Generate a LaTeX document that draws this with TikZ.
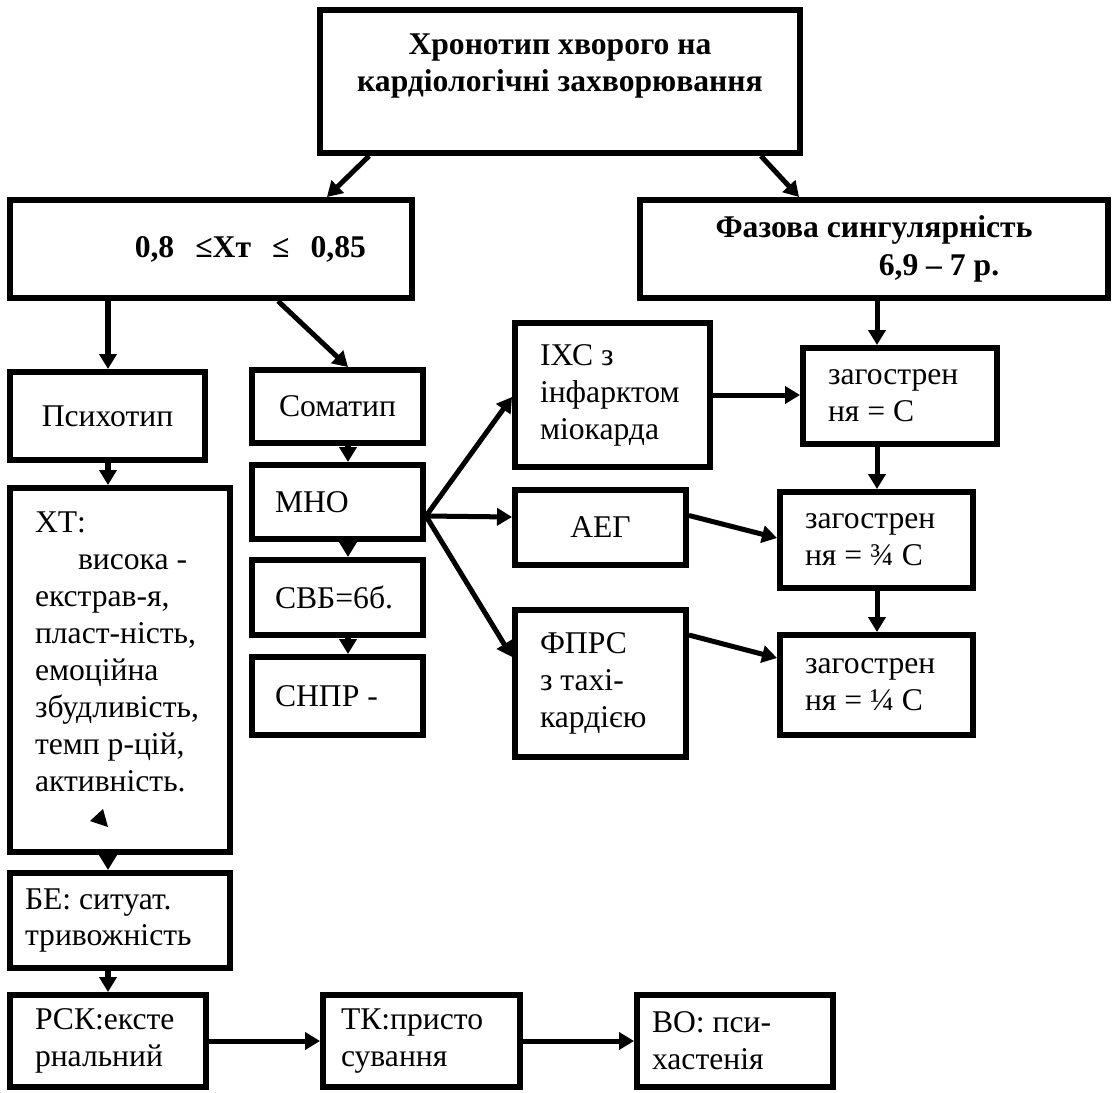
\documentclass[tikz,border=0pt]{standalone}
\usepackage{fontspec}
\setmainfont{Liberation Serif}
\usepackage{tikz}
\usetikzlibrary{arrows.meta}
\hyphenpenalty=10000
\exhyphenpenalty=10000
\tikzset{
  box/.style={rectangle,draw,line width=3.4pt,align=flush left,inner xsep=0pt,inner ysep=0pt},
  bold/.style={font=\fontsize{18}{21.5}\selectfont\bfseries},
  link/.style={color=black,line width=2.85pt,->},
}

\begin{document}
\begin{tikzpicture}[>={Triangle[length=0.3cm,width=0.34cm]},x=0.02cm,y=-0.02cm,font=\fontsize{18}{21}\selectfont]
            \useasboundingbox (0,0) rectangle (1117,1093);
            %
            \node[box,bold,align=center,minimum width=9.6cm,minimum height=2.86cm] (chrono) at (560,81.5) {Хронотип хворого на\\кардіологічні захворювання\\~};
            \node[box,bold,align=right,text width=6.2cm,minimum width=8.04cm,minimum height=1.96cm] (ratio) at (211,249) {0,8 ~≤Хт ~≤ ~0,85};
            \node[box,bold,align=center,minimum width=9.36cm,minimum height=1.96cm] (phase) at (874,249) {Фазова~сингулярність\\\hspace*{2.6cm}6,9~–~7~р.};
            %
            \node[box,align=center,minimum width=3.9cm,minimum height=1.76cm] (psycho) at (107.5,416) {Психотип};
            \node[box,text width=3.4cm,minimum width=4.4cm,minimum height=7.28cm] (xt) at (120,670) {ХТ:\\\hspace*{0.86cm}висока~-\\екстрав-я,\\пласт-ність,\\емоційна\\збудливість,\\темп~р-цій,\\активність.\\~};
            \node[box,text width=3.8cm,minimum width=4.4cm,minimum height=1.9cm] (be) at (120,920.5) {БЕ:~ситуат.\\тривожність};
            \node[box,text width=2.92cm,minimum width=3.92cm,minimum height=1.84cm] (rsk) at (108,1041) {РСК:ексте\\рнальний};
            \node[box,text width=3.22cm,minimum width=3.94cm,minimum height=1.84cm] (tk) at (421.5,1041) {ТК:присто\\сування};
            \node[box,text width=3.32cm,minimum width=3.92cm,minimum height=1.84cm] (vo) at (735,1041) {ВО:~пси-\\хастенія};
            %
            \node[box,align=center,minimum width=3.42cm,minimum height=1.46cm] (somato) at (337.5,406.5) {Соматип};
            \node[box,text width=2.5cm,minimum width=3.42cm,minimum height=1.48cm] (mno) at (337.5,502) {МНО};
            \node[box,text width=2.5cm,minimum width=3.42cm,minimum height=1.5cm] (svb) at (337.5,597.5) {СВБ=6б.};
            \node[box,text width=2.5cm,minimum width=3.42cm,minimum height=1.56cm] (snpr) at (337.5,696) {СНПР~-};
            %
            \node[box,text width=2.9cm,minimum width=3.9cm,minimum height=2.88cm] (ihs) at (612.5,395) {ІХС~з\\інфарктом\\міокарда};
            \node[box,align=center,minimum width=3.42cm,minimum height=1.5cm] (aeg) at (600.5,527.5) {АЕГ};
            \node[box,text width=2.42cm,minimum width=3.42cm,minimum height=2.94cm] (fprs) at (600.5,683.5) {ФПРС\\з~тахі-\\кардією};
            \node[box,text width=2.88cm,minimum width=3.88cm,minimum height=1.92cm] (exacA) at (900,396) {загострен\\ня~=~С};
            \node[box,text width=2.86cm,minimum width=3.86cm,minimum height=1.92cm] (exacB) at (876.5,540) {загострен\\ня~=~¾~С};
            \node[box,text width=2.86cm,minimum width=3.86cm,minimum height=2cm] (exacC) at (876.5,685) {загострен\\ня~=~¼~С};
            %
            \coordinate (colA) at (108,0);
            \coordinate (colB) at (348,0);
            \coordinate (colC) at (877,0);
            %
            \draw [link] ([xshift=1.04cm]chrono.south west) to ([xshift=2.32cm]ratio.north);
            \draw [link] ([xshift=-0.84cm]chrono.south east) to ([xshift=3.24cm]phase.north west);
            \draw [link] (ratio.south -| colA) to (psycho.north -| colA);
            \draw [link] ([xshift=1.34cm]ratio.south) to (somato.north -| colB);
            \draw [link] (psycho.south -| colA) to (xt.north -| colA);
            \draw [link] (xt.south -| colA) to (be.north -| colA);
            \draw [link] (be.south -| colA) to (rsk.north -| colA);
            \draw [link] (rsk.east) to (tk.west);
            \draw [link] (tk.east) to (vo.west);
            %
            \draw [link] (somato.south -| colB) to (mno.north -| colB);
            \draw [link] (mno.south -| colB) to (svb.north -| colB);
            \draw [link] (svb.south -| colB) to (snpr.north -| colB);
            \draw [link] ([yshift=-0.28cm]mno.east) to ([yshift=-0.04cm]ihs.west);
            \draw [link] ([yshift=-0.28cm]mno.east) to ([yshift=0.21cm]aeg.west);
            \draw [link] ([yshift=-0.28cm]mno.east) to ([yshift=0.53cm]fprs.west);
            %
            \draw [link] (ihs.east) to (ihs.east -| exacA.west);
            \draw [link] ([yshift=0.24cm]aeg.east) to ([yshift=0.04cm]exacB.west);
            \draw [link] ([yshift=0.97cm]fprs.east) to ([yshift=0.54cm]exacC.west);
            \draw [link] (phase.south -| colC) to (exacA.north -| colC);
            \draw [link] (exacA.south -| colC) to (exacB.north -| colC);
            \draw [link] (exacB.south -| colC) to (exacC.north -| colC);
            %
            \fill (90,821) -- (103,809) -- (108,827) -- cycle;
            %
\end{tikzpicture}
\end{document}
